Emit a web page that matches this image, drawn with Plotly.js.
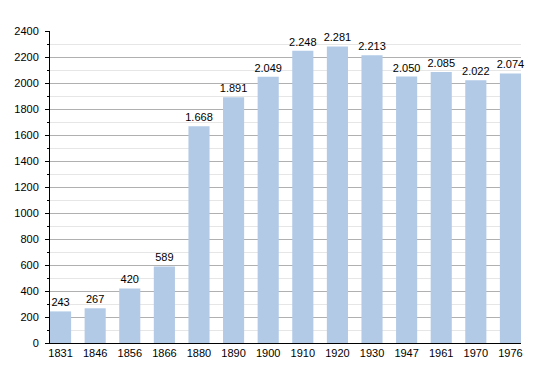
<!DOCTYPE html>
<html><head><meta charset="utf-8">
<script src="https://cdn.plot.ly/plotly-3.0.1.min.js"></script>
<style>html,body{margin:0;padding:0;background:#fff}#c{width:550px;height:373px}</style>
</head><body><div id="c"></div>
<script>
const years = ["1831","1846","1856","1866","1880","1890","1900","1910","1920","1930","1947","1961","1970","1976"];
const population = [243,267,420,589,1668,1891,2049,2248,2281,2213,2050,2085,2022,2074];
const labels = ["243","267","420","589","1.668","1.891","2.049","2.248","2.281","2.213","2.050","2.085","2.022","2.074"];

Plotly.newPlot('c', [{
  type: 'bar', x: years, y: population, text: labels,
  textposition: 'outside', cliponaxis: false, constraintext: 'none',
  textfont: {family: 'Liberation Sans, Arial, sans-serif', size: 11, color: '#000'},
  marker: {color: 'rgb(178,202,230)'}, width: 0.61, hoverinfo: 'none'
}], {
  width: 550, height: 373,
  margin: {l: 50, r: 29, t: 31, b: 30},
  paper_bgcolor: '#fff', plot_bgcolor: '#fff',
  showlegend: false,
  font: {family: 'Liberation Sans, Arial, sans-serif', size: 11, color: '#000'},
  xaxis: {type: 'category', range: [-0.305, 13.305], showline: true, linecolor: '#000', linewidth: 1,
    ticks: '', showgrid: false, tickfont: {size: 11}, fixedrange: true},
  yaxis: {range: [0, 2400], dtick: 200, showline: true, linecolor: '#000', linewidth: 1,
    ticks: 'outside', ticklen: 4, tickcolor: '#000', gridcolor: '#b0b0b0', gridwidth: 1,
    zeroline: false, tickfont: {size: 11}, ticklabelstandoff: 4,
    minor: {dtick: 100, ticks: 'outside', ticklen: 2, tickcolor: '#000', showgrid: true, gridcolor: '#e6e6e6'}}
}, {staticPlot: true});
</script></body></html>
